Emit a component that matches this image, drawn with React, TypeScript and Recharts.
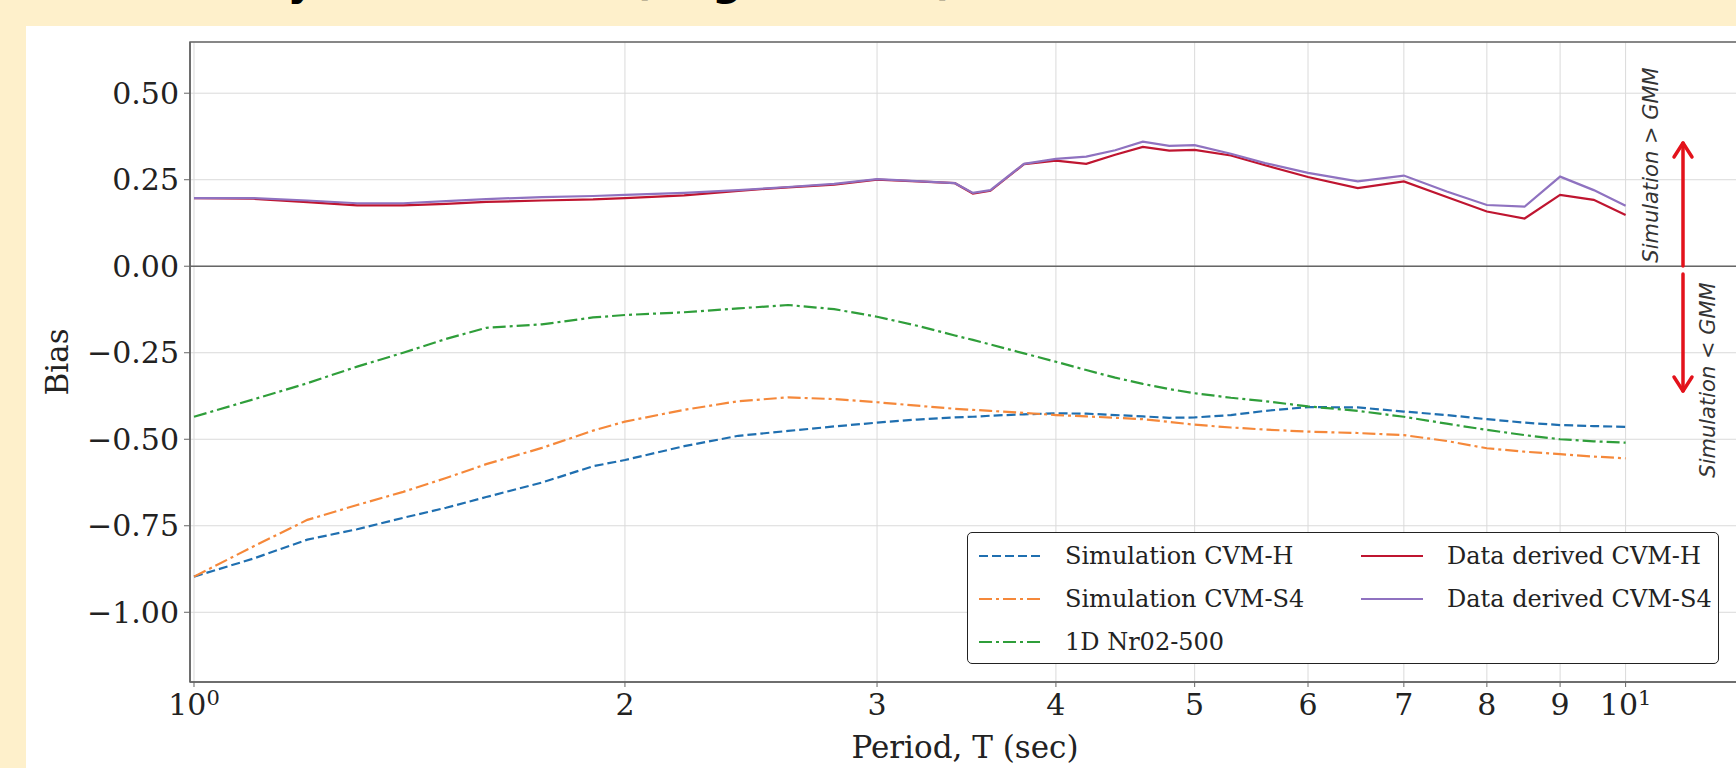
import React from 'react';
import { LineChart, Line, XAxis, YAxis, CartesianGrid, ReferenceLine, ReferenceArea } from 'recharts';

// period (sec) sampled along the log axis
const periods = [
  1.0, 1.1, 1.2, 1.3, 1.4, 1.5, 1.6, 1.75, 1.9, 2.0, 2.2, 2.4, 2.6, 2.8, 3.0, 3.2, 3.4, 3.5, 3.6,
  3.8, 4.0, 4.2, 4.4, 4.6, 4.8, 5.0, 5.3, 5.6, 6.0, 6.5, 7.0, 7.5, 8.0, 8.5, 9.0, 9.5, 10.0,
];

const simCvmH = [
  -0.897, -0.845, -0.79, -0.76, -0.727, -0.698, -0.667, -0.625, -0.578, -0.56, -0.52, -0.49, -0.476,
  -0.463, -0.452, -0.443, -0.437, -0.435, -0.432, -0.428, -0.425, -0.426, -0.43, -0.434, -0.438,
  -0.437, -0.43, -0.418, -0.407, -0.408, -0.42, -0.43, -0.442, -0.452, -0.459, -0.462, -0.464,
];

const simCvmS4 = [
  -0.897, -0.81, -0.733, -0.69, -0.652, -0.612, -0.572, -0.525, -0.475, -0.449, -0.415, -0.39,
  -0.379, -0.384, -0.393, -0.403, -0.412, -0.415, -0.418, -0.424, -0.43, -0.434, -0.438, -0.442,
  -0.45, -0.458, -0.466, -0.472, -0.478, -0.482, -0.488, -0.505, -0.526, -0.536, -0.543, -0.55, -0.555,
];

const oneDNr02 = [
  -0.435, -0.385, -0.338, -0.29, -0.25, -0.21, -0.178, -0.168, -0.148, -0.141, -0.133, -0.122,
  -0.112, -0.124, -0.146, -0.172, -0.2, -0.213, -0.226, -0.252, -0.276, -0.3, -0.322, -0.34, -0.355,
  -0.367, -0.38, -0.39, -0.405, -0.418, -0.435, -0.455, -0.473, -0.488, -0.5, -0.506, -0.51,
];

const dataCvmH = [
  0.197, 0.195, 0.185, 0.176, 0.176, 0.18, 0.186, 0.19, 0.193, 0.197, 0.205, 0.218, 0.228, 0.236,
  0.25, 0.245, 0.24, 0.21, 0.218, 0.295, 0.305, 0.296, 0.322, 0.345, 0.334, 0.336, 0.32, 0.292,
  0.258, 0.226, 0.245, 0.2, 0.158, 0.138, 0.206, 0.192, 0.148,
];

const dataCvmS4 = [
  0.197, 0.197, 0.19, 0.182, 0.182, 0.188, 0.194, 0.2, 0.203, 0.206, 0.212, 0.22, 0.229, 0.238,
  0.252, 0.246, 0.24, 0.212, 0.22, 0.296, 0.31, 0.317, 0.335, 0.36, 0.348, 0.35, 0.325, 0.298,
  0.27, 0.245, 0.262, 0.216, 0.177, 0.172, 0.259, 0.22, 0.175,
];

const xTicks = [1, 2, 3, 4, 5, 6, 7, 8, 9, 10];
const yTicks = [0.5, 0.25, 0, -0.25, -0.5, -0.75, -1.0];

const series = [
  { key: 'simH', name: 'Simulation CVM-H', color: '#1f6fb0', dash: '9 4' },
  { key: 'simS4', name: 'Simulation CVM-S4', color: '#f5883a', dash: '13 4 3 4' },
  { key: 'oneD', name: '1D Nr02-500', color: '#2f9e3a', dash: '13 4 3 4' },
  { key: 'dataH', name: 'Data derived CVM-H', color: '#bf1530', dash: undefined },
  { key: 'dataS4', name: 'Data derived CVM-S4', color: '#8f72c0', dash: undefined },
];

const chartData = periods.map((t, i) => ({
  period: t,
  simH: simCvmH[i],
  simS4: simCvmS4[i],
  oneD: oneDNr02[i],
  dataH: dataCvmH[i],
  dataS4: dataCvmS4[i],
}));

const serif = '"DejaVu Serif", serif';
const X_MIN = 0.9936;
const X_MAX = 12.02;
const Y_MIN = -1.2015;
const Y_MAX = 0.648;

const fmtY = (v: number) => (v < 0 ? '\u2212' + Math.abs(v).toFixed(2) : v.toFixed(2));

const XTick = (props: any) => {
  const { x, y, payload } = props;
  const v = payload.value;
  const isDecade = v === 1 || v === 10;
  return (
    <text x={x} y={y} dy='0.71em' textAnchor='middle' fill='#222' fontSize={30} fontFamily={serif}>
      {isDecade ? (
        <>
          10
          <tspan dy='-0.5em' fontSize={21}>
            {v === 1 ? '0' : '1'}
          </tspan>
        </>
      ) : (
        String(v)
      )}
    </text>
  );
};

const LegendBox = () => {
  const col = (items: typeof series) => (
    <div style={{ display: 'flex', flexDirection: 'column', gap: 11 }}>
      {items.map(s => (
        <div key={s.key} style={{ display: 'flex', alignItems: 'center', height: 32 }}>
          <svg width={62} height={10} style={{ marginRight: 24 }}>
            <line x1={0} y1={5} x2={62} y2={5} stroke={s.color} strokeWidth={2.2} strokeDasharray={s.dash} />
          </svg>
          <span style={{ fontFamily: serif, fontSize: 24, color: '#222', whiteSpace: 'nowrap' }}>{s.name}</span>
        </div>
      ))}
    </div>
  );
  return (
    <div
      style={{
        position: 'absolute',
        left: 967,
        top: 532,
        width: 752,
        height: 132,
        boxSizing: 'border-box',
        border: '1.8px solid #222',
        borderRadius: 5,
        background: '#fff',
        display: 'flex',
        padding: '7px 0 0 11px',
      }}
    >
      <div style={{ width: 382 }}>{col(series.slice(0, 3))}</div>
      <div>{col(series.slice(3))}</div>
    </div>
  );
};

export default function App() {
  return (
    <div
      style={{
        position: 'fixed',
        left: 0,
        top: 0,
        width: 1736,
        height: 768,
        overflow: 'hidden',
        background: '#fef0cb',
      }}
    >
      <div
        style={{
          position: 'absolute',
          left: 143,
          top: -44,
          fontFamily: '"DejaVu Sans", sans-serif',
          fontWeight: 'bold',
          fontSize: 42,
          color: '#000',
          whiteSpace: 'nowrap',
        }}
      >
        Bias by Basin Model (Regional Fit)
      </div>
      <div style={{ position: 'absolute', left: 26, top: 26, right: 0, bottom: 0, background: '#fff' }} />
      <div style={{ position: 'absolute', left: 0, top: 0 }}>
        <LineChart width={1760} height={768} data={chartData} margin={{ top: 42, right: 20, bottom: 0, left: 0 }}>
          <CartesianGrid stroke='#dadada' strokeWidth={1} />
          <XAxis
            dataKey='period'
            type='number'
            scale='log'
            domain={[X_MIN, X_MAX]}
            allowDataOverflow
            ticks={xTicks}
            interval={0}
            height={86}
            tick={<XTick />}
            tickSize={5}
            tickMargin={7}
            stroke='#666'
            axisLine={{ stroke: '#666', strokeWidth: 1.5 }}
            label={{ value: 'Period, T (sec)', position: 'insideBottom', offset: 10, fill: '#222', fontSize: 31, fontFamily: serif }}
          />
          <YAxis
            type='number'
            domain={[Y_MIN, Y_MAX]}
            allowDataOverflow
            ticks={yTicks}
            interval={0}
            width={190}
            tickFormatter={fmtY}
            tick={{ fill: '#222', fontSize: 30, fontFamily: serif }}
            tickSize={6}
            tickMargin={5}
            stroke='#666'
            axisLine={{ stroke: '#666', strokeWidth: 1.5 }}
            label={{ value: 'Bias', angle: -90, position: 'center', dx: -38, fill: '#222', fontSize: 31, fontFamily: serif }}
          />
          <ReferenceArea x1={X_MIN} x2={X_MAX} y1={Y_MIN} y2={Y_MAX} fill='none' stroke='#666' strokeWidth={1.5} />
          <ReferenceLine y={0} stroke='#666' strokeWidth={1.6} />
          {series.map(s => (
            <Line
              key={s.key}
              dataKey={s.key}
              name={s.name}
              type='linear'
              stroke={s.color}
              strokeWidth={2.2}
              strokeDasharray={s.dash}
              dot={false}
              activeDot={false}
              isAnimationActive={false}
            />
          ))}
        </LineChart>
      </div>
      <LegendBox />
      <svg
        width={1736}
        height={768}
        style={{ position: 'absolute', left: 0, top: 0, pointerEvents: 'none' }}
      >
        <g stroke='#e3121b' strokeWidth={3.5} fill='none' strokeLinecap='round' strokeLinejoin='round'>
          <line x1={1683} y1={266} x2={1683} y2={143} />
          <polyline points='1674,157 1683,143 1692,157' />
          <line x1={1683} y1={274} x2={1683} y2={391} />
          <polyline points='1674,377 1683,391 1692,377' />
        </g>
        <text
          transform='translate(1651,165) rotate(-90)'
          textAnchor='middle'
          dominantBaseline='central'
          fontFamily='"DejaVu Sans", sans-serif'
          fontStyle='italic'
          fontSize={21}
          fill='#333'
        >
          {'Simulation > GMM'}
        </text>
        <text
          transform='translate(1708,380) rotate(-90)'
          textAnchor='middle'
          dominantBaseline='central'
          fontFamily='"DejaVu Sans", sans-serif'
          fontStyle='italic'
          fontSize={21}
          fill='#333'
        >
          {'Simulation < GMM'}
        </text>
      </svg>
    </div>
  );
}
